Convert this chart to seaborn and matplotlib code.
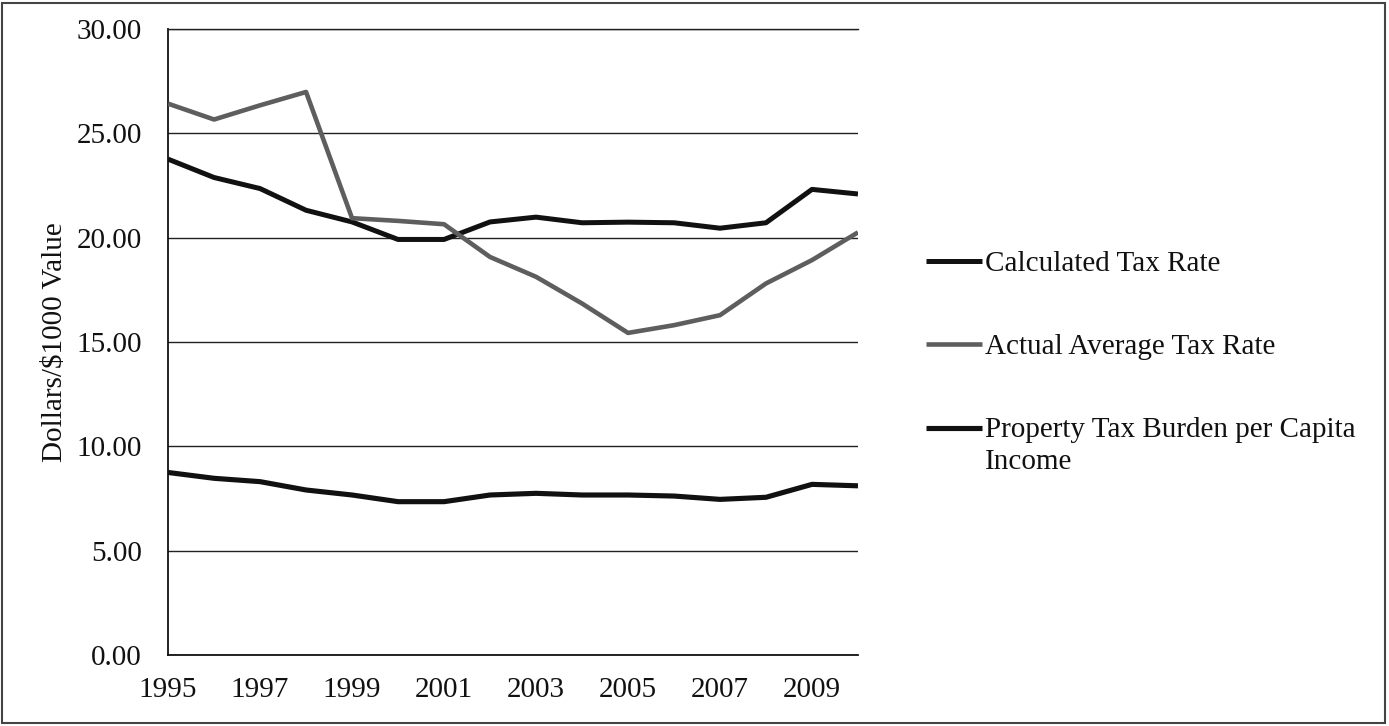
import numpy as np
import pandas as pd
import matplotlib
matplotlib.use("Agg")
import matplotlib.pyplot as plt
from matplotlib.patches import Rectangle
from matplotlib.legend_handler import HandlerLine2D
from matplotlib.ticker import FormatStrFormatter
import seaborn as sns

# ---- data -------------------------------------------------------------
years = list(range(1995, 2011))

calculated_rate = [23.77, 22.89, 22.36, 21.32, 20.76, 19.92, 19.92, 20.76,
                   20.99, 20.72, 20.75, 20.72, 20.46, 20.72, 22.32, 22.10]

actual_avg_rate = [26.43, 25.67, 26.35, 26.99, 20.94, 20.81, 20.65, 19.08,
                   18.13, 16.85, 15.44, 15.81, 16.29, 17.81, 18.93, 20.26]

burden_per_capita = [8.75, 8.47, 8.31, 7.91, 7.67, 7.35, 7.35, 7.67,
                     7.75, 7.67, 7.67, 7.62, 7.46, 7.56, 8.18, 8.11]

series_names = ["Calculated Tax Rate",
                "Actual Average Tax Rate",
                "Property Tax Burden per Capita\nIncome"]

x_ticks = list(range(1995, 2010, 2))
y_ticks = [0, 5, 10, 15, 20, 25, 30]

# ---- style ------------------------------------------------------------
sns.set_theme(style="white")
plt.rcParams["font.family"] = ["Liberation Serif", "DejaVu Serif"]
FS = 21

fig = plt.figure(figsize=(13.89, 7.26), dpi=100)
ax = fig.add_axes([0.121, 0.0978, 0.4967, 0.862])

df = pd.DataFrame({"year": years,
                   series_names[0]: calculated_rate,
                   series_names[1]: actual_avg_rate,
                   series_names[2]: burden_per_capita})

styles = {series_names[0]: dict(color="#111111", lw=3.6),
          series_names[1]: dict(color="#5e5e5e", lw=3.3),
          series_names[2]: dict(color="#111111", lw=3.7)}

for name in series_names:
    sns.lineplot(data=df, x="year", y=name, ax=ax, label=name,
                 color=styles[name]["color"], linewidth=styles[name]["lw"],
                 solid_joinstyle="round", solid_capstyle="butt", zorder=3)

# ---- axes -------------------------------------------------------------
ax.set_xlim(1995, 2010)
ax.set_ylim(0, 30)
ax.set_xticks(x_ticks)
ax.set_yticks(y_ticks)
ax.yaxis.set_major_formatter(FormatStrFormatter("%.2f"))
ax.tick_params(axis="both", length=0, labelsize=FS, colors="#111111")
ax.tick_params(axis="y", pad=19)
ax.tick_params(axis="x", pad=16)
ax.set_xlabel("")
ax.set_ylabel("Dollars/$1000 Value", fontsize=FS, color="#111111", labelpad=6)

ax.yaxis.grid(True, color="#222222", linewidth=1.0)
ax.xaxis.grid(False)
ax.set_axisbelow(True)
for side in ("left", "bottom"):
    ax.spines[side].set_visible(True)
    ax.spines[side].set_color("#111111")
    ax.spines[side].set_linewidth(1.3)
ax.spines["top"].set_visible(True)
ax.spines["top"].set_color("#222222")
ax.spines["top"].set_linewidth(1.0)
ax.spines["right"].set_visible(False)


# ---- legend -----------------------------------------------------------
class FirstLineHandler(HandlerLine2D):
    """Puts the legend line beside the first row of a two-row label."""

    def __init__(self, shift, **kw):
        super().__init__(**kw)
        self.shift = shift

    def create_artists(self, legend, orig_handle, xdescent, ydescent,
                       width, height, fontsize, trans):
        artists = super().create_artists(legend, orig_handle, xdescent,
                                         ydescent, width, height,
                                         fontsize, trans)
        for a in artists:
            a.set_ydata(np.asarray(a.get_ydata()) + self.shift * fontsize)
        return artists


handles, labels = ax.get_legend_handles_labels()
leg = ax.legend(handles, labels,
                handler_map={handles[2]: FirstLineHandler(0.62)},
                loc="center left", bbox_to_anchor=(0.667, 0.50),
                bbox_transform=fig.transFigure, frameon=False,
                fontsize=FS, borderpad=0, borderaxespad=0,
                handlelength=1.92, handletextpad=0.08, labelspacing=1.95)
for t in leg.get_texts():
    t.set_color("#111111")
    t.set_linespacing(1.3)

# outer frame around the whole figure
fig.patches.append(Rectangle((0.0015, 0.004), 0.9955, 0.9925,
                             transform=fig.transFigure, fill=False,
                             lw=1.5, ec="#444444"))

fig.savefig("out.png", dpi=100)
